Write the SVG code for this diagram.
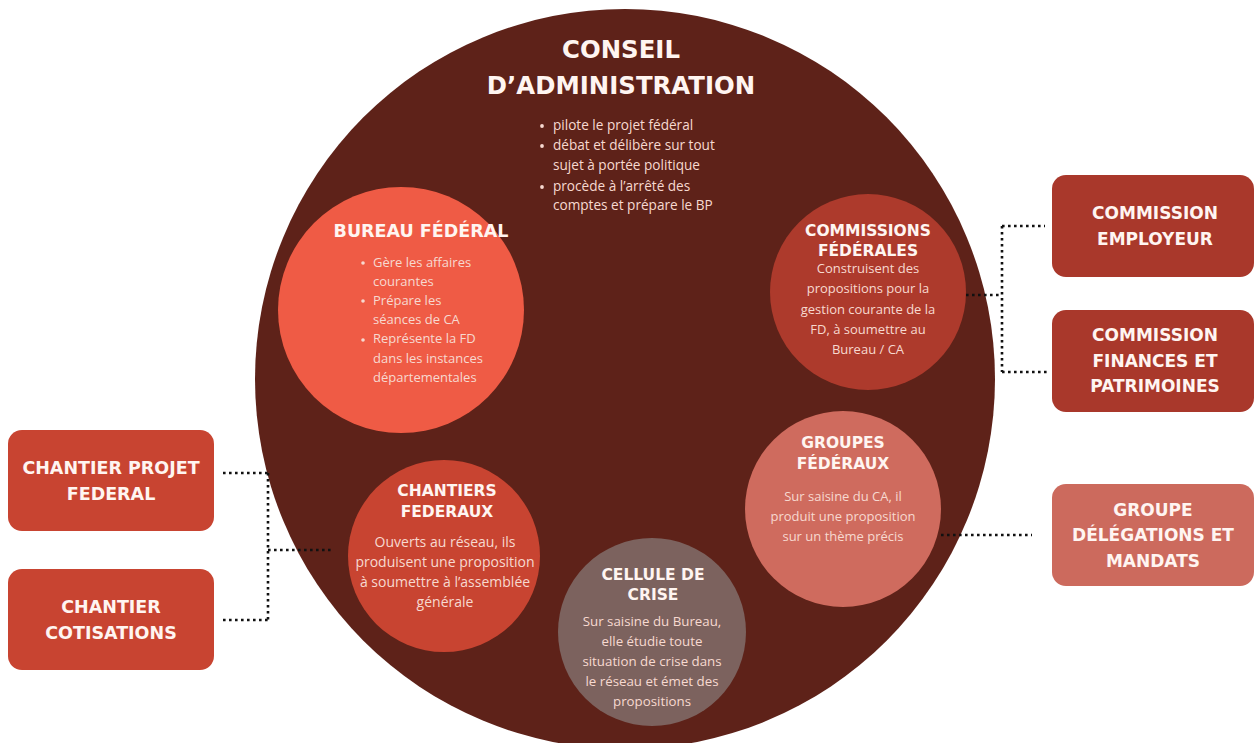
<svg xmlns="http://www.w3.org/2000/svg" width="1254" height="743" viewBox="0 0 1254 743">
<style>
.t{font-family:"DejaVu Sans","Liberation Sans",sans-serif;font-weight:700;fill:#fff5f1;text-anchor:middle}
.b{font-family:"Open Sans","Liberation Sans",sans-serif;font-weight:400;fill:#f7d9d0}
.c{text-anchor:middle}
.bul{fill:#f7d9d0}
.dot{fill:none;stroke:#111;stroke-width:2.6;stroke-dasharray:2.6 3.4}
</style>
<rect width="1254" height="743" fill="#ffffff"/>
<g id="conseil">
<circle cx="625" cy="379" r="370" fill="#5e2219"/>
<text class="t" x="621" y="58" font-size="24.4">CONSEIL</text>
<text class="t" x="621" y="94" font-size="24.4">D’ADMINISTRATION</text>
<circle class="bul" cx="542" cy="126" r="1.9"/>
<circle class="bul" cx="542" cy="146" r="1.9"/>
<circle class="bul" cx="542" cy="187" r="1.9"/>
<g class="b" font-size="13.6">
<text x="553" y="130">pilote le projet fédéral</text>
<text x="553" y="150">débat et délibère sur tout</text>
<text x="553" y="170">sujet à portée politique</text>
<text x="553" y="191">procède à l’arrêté des</text>
<text x="553" y="210">comptes et prépare le BP</text>
</g>
</g>
<g id="bureau">
<circle cx="401" cy="310" r="123" fill="#ef5b45"/>
<text class="t" x="421" y="237" font-size="17.5">BUREAU FÉDÉRAL</text>
<circle class="bul" cx="363" cy="263" r="1.8"/>
<circle class="bul" cx="363" cy="301" r="1.8"/>
<circle class="bul" cx="363" cy="340" r="1.8"/>
<g class="b" font-size="13">
<text x="373" y="267">Gère les affaires</text>
<text x="373" y="286">courantes</text>
<text x="373" y="305">Prépare les</text>
<text x="373" y="324">séances de CA</text>
<text x="373" y="343">Représente la FD</text>
<text x="373" y="363">dans les instances</text>
<text x="373" y="382">départementales</text>
</g>
</g>
<g id="commissions-federales">
<circle cx="868" cy="292" r="98" fill="#ad3a2c"/>
<text class="t" x="868" y="236" font-size="15.5">COMMISSIONS</text>
<text class="t" x="868" y="256" font-size="15.5">FÉDÉRALES</text>
<g class="b c" font-size="13">
<text x="868" y="273">Construisent des</text>
<text x="868" y="293">propositions pour la</text>
<text x="868" y="314">gestion courante de la</text>
<text x="868" y="334">FD, à soumettre au</text>
<text x="868" y="354">Bureau / CA</text>
</g>
</g>
<g id="groupes-federaux">
<circle cx="843" cy="509" r="98" fill="#cf6b5e"/>
<text class="t" x="843" y="448" font-size="15.5">GROUPES</text>
<text class="t" x="843" y="469" font-size="15.5">FÉDÉRAUX</text>
<g class="b c" font-size="13">
<text x="843" y="501">Sur saisine du CA, il</text>
<text x="843" y="521">produit une proposition</text>
<text x="843" y="541">sur un thème précis</text>
</g>
</g>
<g id="chantiers-federaux">
<circle cx="444" cy="556" r="96" fill="#c84431"/>
<text class="t" x="447" y="496" font-size="15.5">CHANTIERS</text>
<text class="t" x="447" y="517" font-size="15.5">FEDERAUX</text>
<g class="b c" font-size="14">
<text x="445" y="547">Ouverts au réseau, ils</text>
<text x="445" y="567">produisent une proposition</text>
<text x="445" y="587">à soumettre à l’assemblée</text>
<text x="445" y="607">générale</text>
</g>
</g>
<g id="cellule-de-crise">
<circle cx="652" cy="632" r="94" fill="#7c625e"/>
<text class="t" x="653" y="580" font-size="15.5">CELLULE DE</text>
<text class="t" x="653" y="600" font-size="15.5">CRISE</text>
<g class="b c" font-size="13.3">
<text x="652" y="626">Sur saisine du Bureau,</text>
<text x="652" y="646">elle étudie toute</text>
<text x="652" y="666">situation de crise dans</text>
<text x="652" y="686">le réseau et émet des</text>
<text x="652" y="706">propositions</text>
</g>
</g>
<g id="commission-employeur">
<rect x="1052" y="175" width="202" height="102" rx="14" fill="#a9382b"/>
<text class="t" x="1155" y="219" font-size="17">COMMISSION</text>
<text class="t" x="1155" y="245" font-size="17">EMPLOYEUR</text>
</g>
<g id="commission-finances">
<rect x="1052" y="310" width="202" height="102" rx="14" fill="#a9382b"/>
<text class="t" x="1155" y="341" font-size="17">COMMISSION</text>
<text class="t" x="1155" y="367" font-size="17">FINANCES ET</text>
<text class="t" x="1155" y="392" font-size="17">PATRIMOINES</text>
</g>
<g id="groupe-delegations">
<rect x="1052" y="484" width="202" height="102" rx="14" fill="#cc6a5d"/>
<text class="t" x="1153" y="516" font-size="17">GROUPE</text>
<text class="t" x="1153" y="541" font-size="17">DÉLÉGATIONS ET</text>
<text class="t" x="1153" y="567" font-size="17">MANDATS</text>
</g>
<g id="chantier-projet-federal">
<rect x="8" y="430" width="206" height="101" rx="14" fill="#c84431"/>
<text class="t" x="111" y="474" font-size="17.5">CHANTIER PROJET</text>
<text class="t" x="111" y="500" font-size="17.5">FEDERAL</text>
</g>
<g id="chantier-cotisations">
<rect x="8" y="569" width="206" height="101" rx="14" fill="#c84431"/>
<text class="t" x="111" y="613" font-size="17.5">CHANTIER</text>
<text class="t" x="111" y="639" font-size="17.5">COTISATIONS</text>
</g>
<g id="connectors">
<path class="dot" d="M966 295 H1002 M1002 226 V372 M1002 226 H1045 M1002 372 H1047"/>
<path class="dot" d="M941 535 H1032"/>
<path class="dot" d="M223 473 H268 M268 473 V620 M223 620 H268 M268 550 H334"/>
</g>
</svg>
